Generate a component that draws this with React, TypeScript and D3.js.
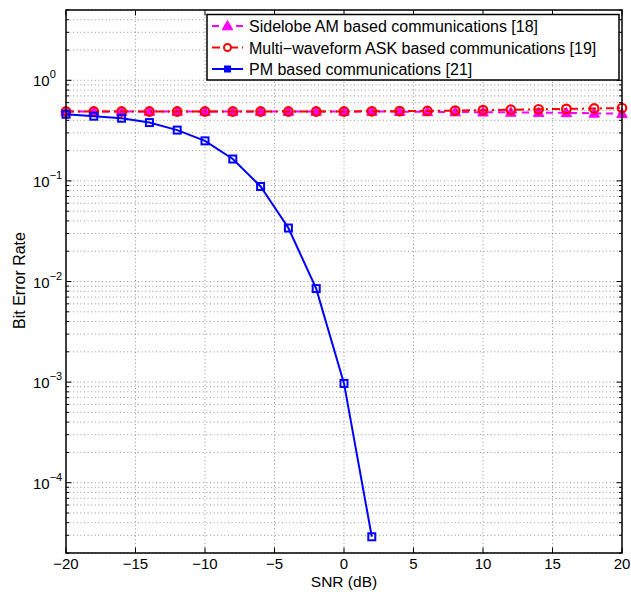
import React from "react";
import * as d3 from "d3";

const snr = d3.range(-20, 21, 2);
const pmSnr = [-20, -18, -16, -14, -12, -10, -8, -6, -4, -2, 0, 2];
const pmBer = [0.46, 0.44, 0.42, 0.38, 0.32, 0.25, 0.165, 0.088, 0.034, 0.0085, 0.00097, 0.000029];
const amBer = [0.49, 0.49, 0.49, 0.49, 0.49, 0.49, 0.49, 0.49, 0.49, 0.49, 0.49, 0.49, 0.488, 0.486, 0.484, 0.482, 0.48, 0.478, 0.475, 0.47, 0.465];
const askBer = [0.49, 0.49, 0.49, 0.49, 0.49, 0.49, 0.49, 0.49, 0.49, 0.49, 0.49, 0.492, 0.494, 0.496, 0.5, 0.505, 0.51, 0.515, 0.52, 0.525, 0.53];
const xTicks = [-20, -15, -10, -5, 0, 5, 10, 15, 20];
const yExps = [0, -1, -2, -3, -4];
const legendLabels = [
  "Sidelobe AM based communications [18]",
  "Multi\u2212waveform ASK based communications [19]",
  "PM based communications [21]",
];

const W = 631;
const H = 592;
const margin = { left: 66, right: 9, top: 10, bottom: 39 };
const FONT = "'Liberation Sans', Arial, Helvetica, sans-serif";

const x = d3.scaleLinear().domain([-20, 20]).range([margin.left, W - margin.right]);
const y = d3.scaleLog().domain([2e-5, 5]).range([H - margin.bottom, margin.top]);

const minorY: number[] = [];
for (let e = -5; e <= 0; e++) {
  for (let m = 1; m <= 9; m++) {
    const v = m * Math.pow(10, e);
    if (v >= 2e-5 && v <= 5) minorY.push(v);
  }
}

const line = d3.line<[number, number]>().x((d) => x(d[0])).y((d) => y(d[1]));

function triangle(cx: number, cy: number, s: number) {
  return `M${cx},${cy - s}L${cx + s * 0.95},${cy + s * 0.7}L${cx - s * 0.95},${cy + s * 0.7}Z`;
}

export default function App() {
  const x0 = margin.left;
  const x1 = W - margin.right;
  const y0 = margin.top;
  const y1 = H - margin.bottom;
  const grid = { stroke: "#666", strokeWidth: 0.7, strokeDasharray: "1 2.6" };

  const am: [number, number][] = snr.map((s, i) => [s, amBer[i]]);
  const ask: [number, number][] = snr.map((s, i) => [s, askBer[i]]);
  const pm: [number, number][] = pmSnr.map((s, i) => [s, pmBer[i]]);

  const lg = { left: 207, top: 14.5, right: 619, bottom: 80 };
  const rows = [26, 47.5, 69];

  return (
    <svg width={W} height={H} style={{ position: "absolute", left: 0, top: 0, background: "#fff" }} fontFamily={FONT}>
      <rect width={W} height={H} fill="#fff" />
      {/* grid */}
      {minorY.map((v, i) => (
        <line key={"gy" + i} x1={x0} x2={x1} y1={y(v)} y2={y(v)} {...grid} />
      ))}
      {xTicks.slice(1, -1).map((t) => (
        <line key={"gx" + t} x1={x(t)} x2={x(t)} y1={y0} y2={y1} {...grid} />
      ))}
      {/* ticks */}
      {xTicks.map((t) => (
        <g key={"tx" + t} stroke="#000" strokeWidth={1}>
          <line x1={x(t)} x2={x(t)} y1={y1} y2={y1 - 5.5} />
          <line x1={x(t)} x2={x(t)} y1={y0} y2={y0 + 5.5} />
        </g>
      ))}
      {minorY.map((v, i) => {
        const lv = Math.log10(v);
        const major = Math.abs(lv - Math.round(lv)) < 1e-9;
        const len = major ? 5.5 : 3;
        return (
          <g key={"ty" + i} stroke="#000" strokeWidth={1}>
            <line x1={x0} x2={x0 + len} y1={y(v)} y2={y(v)} />
            <line x1={x1} x2={x1 - len} y1={y(v)} y2={y(v)} />
          </g>
        );
      })}
      {/* x tick labels */}
      {xTicks.map((t) => (
        <text key={"lx" + t} x={x(t)} y={569} fontSize={15} textAnchor="middle">
          {t < 0 ? "\u2212" + Math.abs(t) : String(t)}
        </text>
      ))}
      {/* y tick labels */}
      {yExps.map((e) => (
        <text key={"ly" + e} x={33} y={y(Math.pow(10, e)) + 6} fontSize={15} textAnchor="start">
          10
          <tspan dy={-8} fontSize={11}>
            {e === 0 ? "0" : "\u2212" + Math.abs(e)}
          </tspan>
        </text>
      ))}
      <text x={(x0 + x1) / 2} y={587} fontSize={15.5} textAnchor="middle">SNR (dB)</text>
      <text transform={`translate(25,${(y0 + y1) / 2 - 1}) rotate(-90)`} fontSize={16} textAnchor="middle">Bit Error Rate</text>

      {/* series */}
      <path d={line(am) || ""} fill="none" stroke="#ff00ff" strokeWidth={2} strokeDasharray="7 5" />
      {am.map((d, i) => (
        <path key={"am" + i} d={triangle(x(d[0]), y(d[1]), 5.5)} fill="#ff00ff" stroke="#ff00ff" strokeWidth={1} />
      ))}
      <path d={line(ask) || ""} fill="none" stroke="#ff0000" strokeWidth={2} strokeDasharray="8 4 2 4" />
      {ask.map((d, i) => (
        <circle key={"ask" + i} cx={x(d[0])} cy={y(d[1])} r={4.3} fill="none" stroke="#ff0000" strokeWidth={2.2} />
      ))}
      <path d={line(pm) || ""} fill="none" stroke="#0000ff" strokeWidth={2} />
      {pm.map((d, i) => (
        <rect key={"pm" + i} x={x(d[0]) - 3.5} y={y(d[1]) - 3.5} width={7} height={7} fill="none" stroke="#0000ff" strokeWidth={2} />
      ))}

      {/* frame */}
      <rect x={x0} y={y0} width={x1 - x0} height={y1 - y0} fill="none" stroke="#000" strokeWidth={1.5} />

      {/* legend */}
      <rect x={lg.left} y={lg.top} width={lg.right - lg.left} height={lg.bottom - lg.top} fill="#fff" stroke="#000" strokeWidth={1.5} />
      <line x1={212} x2={243} y1={rows[0]} y2={rows[0]} stroke="#ff00ff" strokeWidth={2} strokeDasharray="7 5" />
      <path d={triangle(227.5, rows[0], 5.5)} fill="#ff00ff" stroke="#ff00ff" />
      <line x1={212} x2={243} y1={rows[1]} y2={rows[1]} stroke="#ff0000" strokeWidth={2} strokeDasharray="8 4 2 4" />
      <circle cx={227.5} cy={rows[1]} r={3.5} fill="#fff" stroke="#ff0000" strokeWidth={2} />
      <line x1={212} x2={243} y1={rows[2]} y2={rows[2]} stroke="#0000ff" strokeWidth={2} />
      <rect x={224.5} y={rows[2] - 3} width={6} height={6} fill="#0000ff" stroke="#0000ff" strokeWidth={1} />
      {legendLabels.map((l, i) => (
        <text key={"lg" + i} x={249} y={rows[i] + 6} fontSize={16}>{l}</text>
      ))}
    </svg>
  );
}
